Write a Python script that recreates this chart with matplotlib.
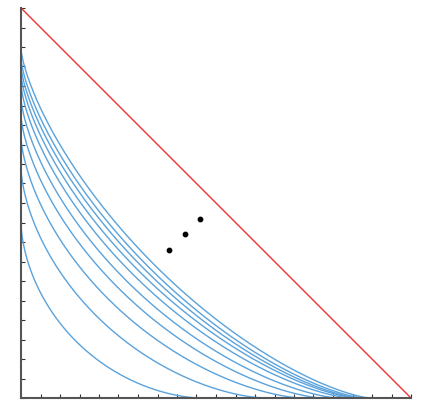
import numpy as np
import matplotlib
matplotlib.use("Agg")
import matplotlib.pyplot as plt

# superellipse curves (x/a)^p + (y/b)^p = 1, outer -> inner
x_intercepts = [0.895, 0.878, 0.867, 0.861, 0.846, 0.814, 0.773, 0.720, 0.625, 0.46]
y_intercepts = [0.895, 0.870, 0.850, 0.830, 0.805, 0.770, 0.725, 0.670, 0.590, 0.45]
exponents = [0.72, 0.715, 0.71, 0.70, 0.69, 0.68, 0.67, 0.65, 0.63, 0.60]

dots_x = [0.38, 0.42, 0.46]
dots_y = [0.38, 0.42, 0.46]

diag_x = [0.0, 1.0]
diag_y = [1.0, 0.0]

fig = plt.figure(figsize=(4.21, 4.16), dpi=100)
ax = fig.add_axes([21 / 421, 18 / 416, 390 / 421, 390 / 416])

t = np.linspace(0, 1, 800)
for a, b, p in zip(x_intercepts, y_intercepts, exponents):
    xs = a * t
    ys = b * np.clip(1 - t ** p, 0, None) ** (1 / p)
    ax.plot(xs, ys, color="#5aa2dc", lw=1.0)

ax.plot(diag_x, diag_y, color="#ee3333", lw=1.0)
ax.scatter(dots_x, dots_y, s=10, color="black", zorder=5)

ax.set_xlim(0, 1)
ax.set_ylim(0, 1)
ticks = np.arange(0, 1.0001, 0.05)
ax.set_xticks(ticks)
ax.set_yticks(ticks)
ax.set_xticklabels([])
ax.set_yticklabels([])
ax.tick_params(direction="in", length=3, width=0.8, color="#333333")
for s in ["top", "right"]:
    ax.spines[s].set_visible(False)
for s in ["left", "bottom"]:
    ax.spines[s].set_color("#555555")
    ax.spines[s].set_linewidth(1.5)
    ax.spines[s].set_zorder(6)

fig.savefig("out.png", dpi=100)
